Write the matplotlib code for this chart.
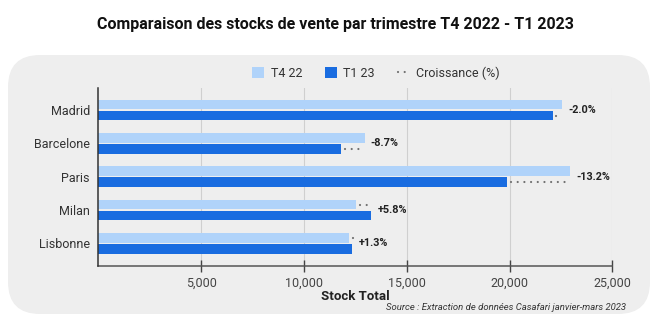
import matplotlib
matplotlib.use("Agg")
import matplotlib.pyplot as plt
import numpy as np
from matplotlib.patches import FancyBboxPatch, Patch
from matplotlib.lines import Line2D
from matplotlib.transforms import IdentityTransform
from matplotlib.ticker import FuncFormatter

plt.rcParams['font.family'] = ['Roboto', 'DejaVu Sans']

cities = ["Madrid", "Barcelone", "Paris", "Milan", "Lisbonne"]
t4_22 = [22550, 12950, 22930, 12550, 12200]
t1_23 = [22100, 11820, 19900, 13280, 12360]
growth = ["-2.0%", "-8.7%", "-13.2%", "+5.8%", "+1.3%"]
xticks = [5000, 10000, 15000, 20000, 25000]

LIGHT = "#b0d3fa"
DARK = "#196ce0"
BG = "#eeeeee"
DOT = "#707070"
DOTSTYLE = (0, (0.01, 3.0))

W, H = 656, 327
fig = plt.figure(figsize=(W / 100, H / 100), dpi=100)
fig.patch.set_facecolor("white")

bg = FancyBboxPatch((8, H - 314), 642, 259,
                    boxstyle="round,pad=0,rounding_size=32",
                    transform=IdentityTransform(), facecolor=BG,
                    edgecolor="none", zorder=0)
fig.add_artist(bg)

ax = fig.add_axes([98.3 / W, 1 - 266 / H, 514 / W, 178 / H])
ax.set_facecolor("none")

y = np.arange(len(cities))
bh = 0.29
off = 0.165
ax.barh(y - off, t4_22, height=bh, color=LIGHT, zorder=3)
ax.barh(y + off, t1_23, height=bh, color=DARK, zorder=3)

for i in range(len(cities)):
    a, b = t4_22[i], t1_23[i]
    yy = y[i] + off if b < a else y[i] - off
    lo, hi = min(a, b), max(a, b)
    ax.plot([lo + 180, hi], [yy, yy], color=DOT, lw=1.6,
            linestyle=DOTSTYLE, zorder=4, dash_capstyle="round")
    ax.annotate(growth[i], (hi, y[i]), xytext=(4.5, 0), textcoords="offset points",
                ha="left", va="center", fontsize=7.8, fontweight="bold",
                color="#222222")

ax.set_xlim(0, 25000)
ax.set_ylim(len(cities) - 1 + 0.68, -0.66)
ax.set_yticks(y)
ax.set_yticklabels(cities, fontsize=9, color="#333333")
ax.set_xticks(xticks)
ax.xaxis.set_major_formatter(FuncFormatter(lambda v, p: f"{int(v):,}"))
ax.tick_params(axis="x", direction="inout", length=8, width=1, colors="#444444",
               labelsize=9, pad=4)
ax.tick_params(axis="y", length=0, pad=6)
ax.grid(axis="x", color="#cfcfcf", lw=0.8, zorder=1)
for s in ["top", "right"]:
    ax.spines[s].set_visible(False)
ax.spines["left"].set_color("#333333")
ax.spines["left"].set_linewidth(1.1)
ax.spines["bottom"].set_color("#555555")
ax.spines["bottom"].set_linewidth(1.1)
ax.spines["left"].set_zorder(5)

ax.set_xlabel("Stock Total", fontsize=9.5, fontweight="bold", color="#222222", labelpad=0)

handles = [Patch(facecolor=LIGHT, edgecolor="none"),
           Patch(facecolor=DARK, edgecolor="none"),
           Line2D([0], [0], color=DOT, lw=1.6, linestyle=DOTSTYLE, dash_capstyle="round")]
fig.legend(handles, ["T4 22", "T1 23", "Croissance (%)"], loc="center",
           bbox_to_anchor=(376 / W, 1 - 73 / H), ncol=3, frameon=False,
           fontsize=9, handlelength=1.0, handleheight=0.9, handletextpad=0.5,
           columnspacing=1.8, labelcolor="#333333")

fig.text(335 / W, 1 - 25 / H, "Comparaison des stocks de vente par trimestre T4 2022 - T1 2023",
         ha="center", va="center", fontsize=11.5, fontweight="bold", color="#111111")
fig.text(626 / W, 1 - 308 / H, "Source : Extraction de données Casafari janvier-mars 2023",
         ha="right", va="center", fontsize=6.8, style="italic", color="#333333")

fig.savefig("out.png", dpi=100)
